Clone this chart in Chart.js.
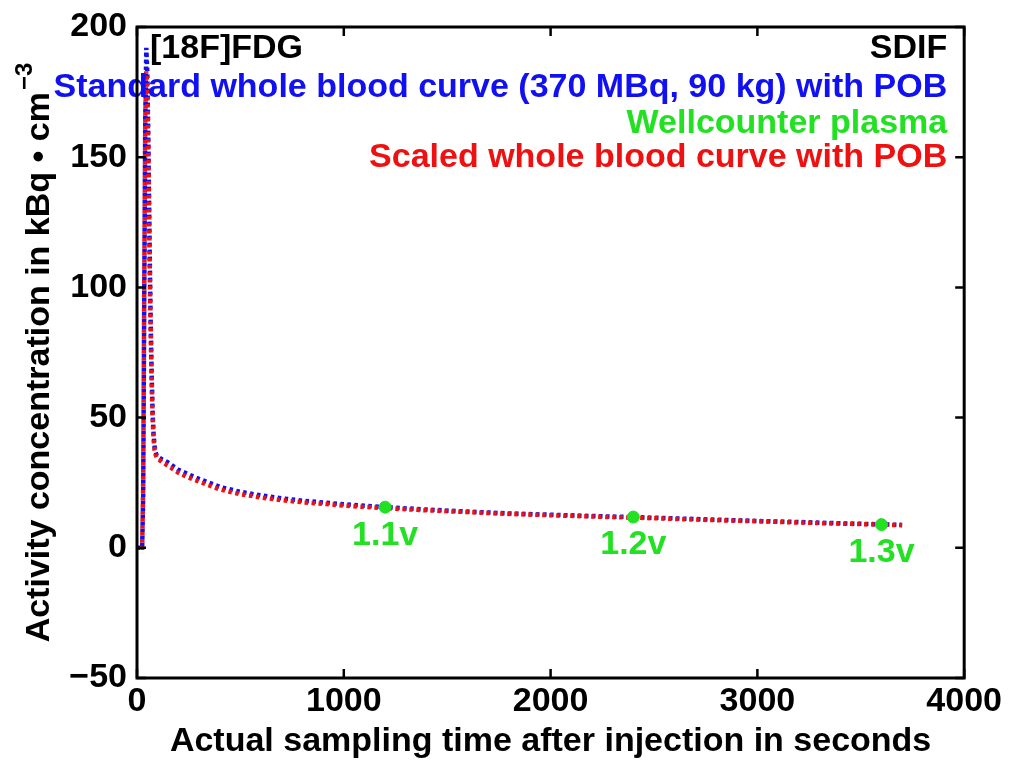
<!DOCTYPE html>
<html><head><meta charset="utf-8">
<script src="https://cdn.jsdelivr.net/npm/chart.js@4.4.0/dist/chart.umd.min.js"></script>
<style>
html,body{margin:0;padding:0;background:#fff;overflow:hidden;}
</style></head><body>
<canvas id="c" width="1009" height="760"></canvas>
<script>
// ---- data ----
const timeSec = [0, 15, 25, 30, 35, 40, 45, 50, 55, 60, 65, 70, 75, 80, 85, 90, 95, 100, 120, 150, 200, 250, 300, 400, 500, 600, 700, 800, 900, 1000, 1200, 1400, 1600, 1800, 2000, 2200, 2400, 2600, 2800, 3000, 3200, 3400, 3600, 3700];
const standardBlood = [0, 0, 0, 20, 95, 165, 192, 182, 155, 122, 92, 70, 53, 44, 39, 36.8, 35.6, 35, 34, 32.8, 30, 28.2, 26.5, 23.4, 21.5, 20.1, 19.0, 18.1, 17.4, 16.7, 15.6, 14.7, 13.9, 13.2, 12.7, 12.2, 11.8, 11.3, 10.8, 10.3, 9.9, 9.4, 9.0, 8.8];
const scaledBlood = [0, 0, 0, 25, 100, 165, 183, 176, 152, 118, 89, 67, 51, 42, 37.5, 35.8, 34.8, 34.2, 33, 31.5, 28.8, 27, 25.4, 22.4, 20.6, 19.3, 18.3, 17.5, 16.9, 16.2, 15.2, 14.4, 13.7, 13.0, 12.5, 12.0, 11.6, 11.1, 10.6, 10.2, 9.7, 9.3, 8.9, 8.7];
const wellTime = [1200, 2400, 3600];
const wellPlasma = [15.6, 11.8, 8.9];
const wellLabels = ['1.1v', '1.2v', '1.3v'];
const xTicks = [0, 1000, 2000, 3000, 4000];
const yTicks = [-50, 0, 50, 100, 150, 200];
const legendTexts = ['[18F]FDG', 'SDIF', 'Standard whole blood curve (370 MBq, 90 kg) with POB', 'Wellcounter plasma', 'Scaled whole blood curve with POB'];
const xTitle = 'Actual sampling time after injection in seconds';
const yTitle = 'Activity concentration in kBq \u2022 cm';
const yTitleSup = '\u22123';

const BLUE = '#1010f0', RED = '#ee1111', GREEN = '#22e022';
const FONT = '"Liberation Sans", Arial, Helvetica, sans-serif';
const FS = 34;

const pts = (xs, ys) => xs.map((x, i) => ({x, y: ys[i]}));

const decor = {
  id: 'decor',
  afterDatasetsDraw(chart) {
    const ctx = chart.ctx, a = chart.chartArea;
    ctx.save();
    ctx.font = 'bold ' + FS + 'px ' + FONT;
    ctx.textBaseline = 'middle';
    ctx.fillStyle = '#000';
    ctx.textAlign = 'left';
    ctx.fillText(legendTexts[0], a.left + 13, 49);
    ctx.textAlign = 'right';
    const rx = a.right - 17;
    ctx.fillText(legendTexts[1], rx, 49);
    ctx.fillStyle = BLUE; ctx.fillText(legendTexts[2], rx, 88);
    ctx.fillStyle = GREEN; ctx.fillText(legendTexts[3], rx, 124);
    ctx.fillStyle = RED; ctx.fillText(legendTexts[4], rx, 158);
    const meta = chart.getDatasetMeta(0);
    ctx.fillStyle = GREEN; ctx.textAlign = 'center';
    meta.data.forEach((el, i) => ctx.fillText(wellLabels[i], el.x, el.y + 28));
    ctx.restore();
  },
  afterDraw(chart) {
    const ctx = chart.ctx, a = chart.chartArea;
    const xs = chart.scales.x, ys = chart.scales.y;
    ctx.save();
    ctx.strokeStyle = '#000';
    ctx.lineWidth = 3;
    ctx.strokeRect(a.left, a.top, a.right - a.left, a.bottom - a.top);
    ctx.lineWidth = 2.5;
    ctx.beginPath();
    xTicks.forEach(v => {
      const px = xs.getPixelForValue(v);
      ctx.moveTo(px, a.bottom); ctx.lineTo(px, a.bottom - 9);
      ctx.moveTo(px, a.top); ctx.lineTo(px, a.top + 9);
    });
    yTicks.forEach(v => {
      const py = ys.getPixelForValue(v);
      ctx.moveTo(a.left, py); ctx.lineTo(a.left + 9, py);
      ctx.moveTo(a.right, py); ctx.lineTo(a.right - 9, py);
    });
    ctx.stroke();
    // y axis title with superscript
    ctx.fillStyle = '#000';
    const supF = 'bold 24px ' + FONT, mainF = 'bold ' + FS + 'px ' + FONT;
    ctx.font = mainF;
    const w1 = ctx.measureText(yTitle).width;
    ctx.font = supF;
    const w2 = ctx.measureText(yTitleSup).width;
    const total = w1 + w2 + 2;
    ctx.translate(40, (a.top + a.bottom) / 2);
    ctx.rotate(-Math.PI / 2);
    ctx.textBaseline = 'middle';
    ctx.textAlign = 'left';
    ctx.font = mainF;
    ctx.fillText(yTitle, -total / 2, 0);
    ctx.font = supF;
    ctx.fillText(yTitleSup, -total / 2 + w1 + 2, -15);
    ctx.restore();
  }
};

new Chart(document.getElementById('c'), {
  type: 'line',
  data: {
    datasets: [
      { label: 'Wellcounter plasma', data: pts(wellTime, wellPlasma), showLine: false,
        pointRadius: 6, pointBackgroundColor: GREEN, pointBorderColor: GREEN, borderColor: GREEN, backgroundColor: GREEN },
      { label: 'Scaled whole blood curve with POB', data: pts(timeSec, scaledBlood), borderColor: RED,
        borderWidth: 4.5, borderDash: [3.5, 3.5], borderDashOffset: 3.5, pointRadius: 0, tension: 0, fill: false },
      { label: 'Standard whole blood curve (370 MBq, 90 kg) with POB', data: pts(timeSec, standardBlood), borderColor: BLUE,
        borderWidth: 4.5, borderDash: [3.5, 3.5], pointRadius: 0, tension: 0, fill: false }
    ]
  },
  options: {
    responsive: false,
    animation: false,
    devicePixelRatio: 1,
    layout: { padding: { left: 0, right: 42, top: 18, bottom: 0 } },
    plugins: { legend: { display: false }, tooltip: { enabled: false }, title: { display: false } },
    scales: {
      x: {
        type: 'linear', min: 0, max: 4000,
        afterBuildTicks: s => { s.ticks = xTicks.map(v => ({value: v})); },
        afterFit: s => { s.height = 82; },
        grid: { display: false, drawTicks: false },
        border: { display: false },
        ticks: { color: '#000', font: { family: FONT, size: FS, weight: 'bold', lineHeight: 1 }, padding: 7, maxRotation: 0, autoSkip: false,
          callback: v => String(v) },
        title: { display: true, text: xTitle, color: '#000', font: { family: FONT, size: FS, weight: 'bold', lineHeight: 1 }, padding: { top: 0, bottom: 1 } }
      },
      y: {
        type: 'linear', min: -50, max: 200,
        afterBuildTicks: s => { s.ticks = yTicks.map(v => ({value: v})); },
        afterFit: s => { s.width = 137; },
        grid: { display: false, drawTicks: false },
        border: { display: false },
        ticks: { color: '#000', font: { family: FONT, size: FS, weight: 'bold', lineHeight: 1 }, padding: 10, autoSkip: false,
          callback: v => (v < 0 ? '\u2212' + Math.abs(v) : String(v)) }
      }
    }
  },
  plugins: [decor]
});
</script>
</body></html>
